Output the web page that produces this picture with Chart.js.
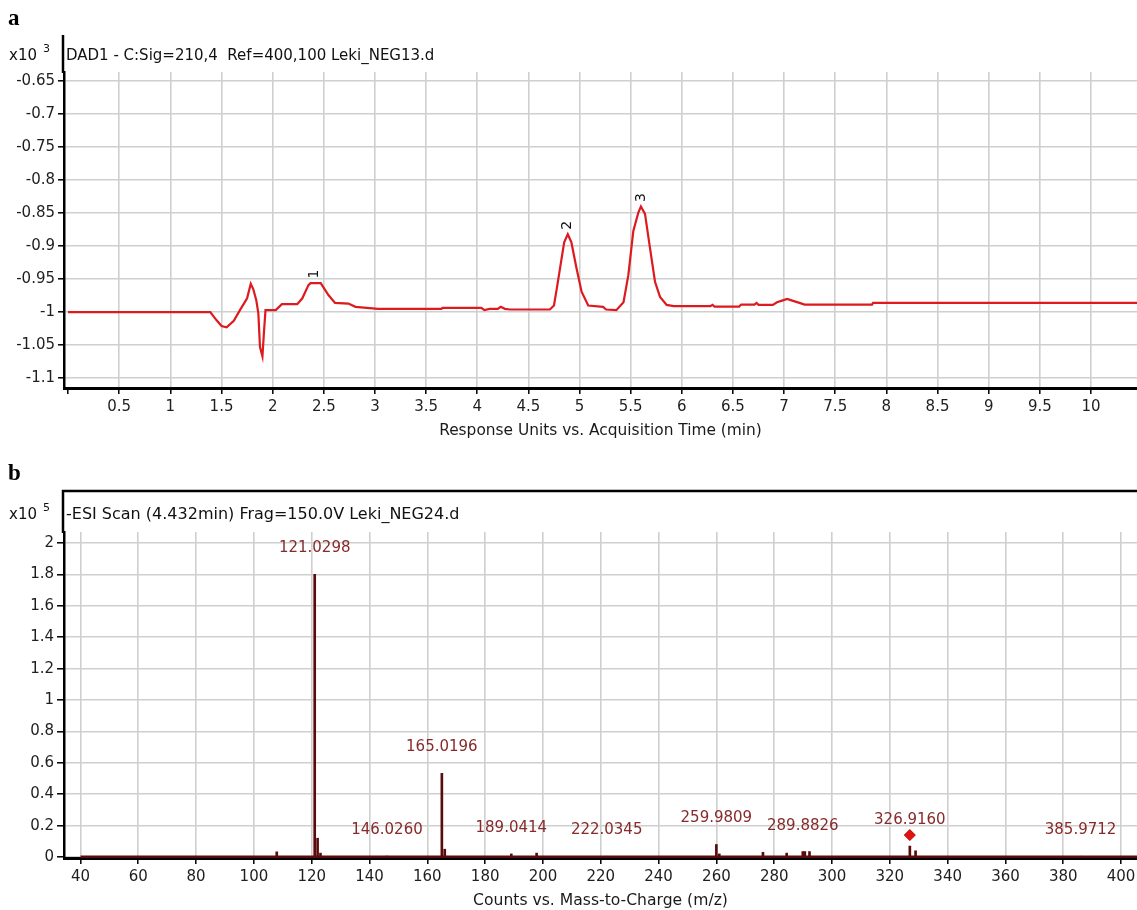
<!DOCTYPE html>
<html>
<head>
<meta charset="utf-8">
<title>DAD chromatogram and ESI spectrum</title>
<script src="https://cdn.jsdelivr.net/npm/chart.js@4/dist/chart.umd.min.js"></script>
<style>
  html, body { margin: 0; padding: 0; background: #ffffff; }
  #wrap { position: relative; width: 1137px; height: 910px; overflow: hidden; }
  canvas { position: absolute; left: 0; }
</style>
</head>
<body>
<div id="wrap">
  <canvas id="chartA" width="1137" height="455" style="top:0px"></canvas>
  <canvas id="chartB" width="1137" height="455" style="top:455px"></canvas>
</div>
<script>
// ---- Panel a: DAD1 trace, response (x10^3) against acquisition time (min) ----
const rtMinutes = [
  0, 1.39, 1.45, 1.50, 1.55, 1.62, 1.68, 1.75, 1.786, 1.81, 1.84, 1.86, 1.876, 1.90, 1.915, 1.93,
  2.03, 2.09, 2.24, 2.29, 2.35, 2.37, 2.47, 2.545, 2.61, 2.74, 2.81, 3.03,
  3.65, 3.66, 4.04, 4.07, 4.12, 4.20, 4.23, 4.27, 4.32, 4.71,
  4.75, 4.78, 4.81, 4.85, 4.885, 4.92, 4.97, 5.02, 5.085, 5.23, 5.26, 5.36,
  5.43, 5.477, 5.526, 5.575, 5.60, 5.64, 5.689, 5.738, 5.787, 5.852, 5.92,
  6.28, 6.30, 6.32, 6.56, 6.58, 6.71, 6.73, 6.75, 6.89, 6.93, 6.98, 7.03, 7.08, 7.15, 7.20,
  7.86, 7.87, 10.45
];
const responseK = [
  -1.000, -1.000, -1.012, -1.021, -1.023, -1.013, -0.997, -0.979, -0.957, -0.965, -0.982, -1.002, -1.053, -1.067, -1.030, -0.997,
  -0.997, -0.988, -0.988, -0.979, -0.959, -0.956, -0.956, -0.974, -0.986, -0.987, -0.992, -0.995,
  -0.995, -0.9935, -0.9935, -0.997, -0.995, -0.995, -0.992, -0.995, -0.996, -0.996,
  -0.990, -0.962, -0.933, -0.894, -0.882, -0.894, -0.933, -0.969, -0.990, -0.992, -0.996, -0.997,
  -0.985, -0.944, -0.877, -0.849, -0.840, -0.851, -0.903, -0.954, -0.977, -0.989, -0.991,
  -0.991, -0.989, -0.9915, -0.9915, -0.9885, -0.9885, -0.986, -0.989, -0.989, -0.985, -0.9825, -0.980, -0.9825, -0.986, -0.9885,
  -0.9885, -0.986, -0.986
];
const rtTicks = [0, 0.5, 1, 1.5, 2, 2.5, 3, 3.5, 4, 4.5, 5, 5.5, 6, 6.5, 7, 7.5, 8, 8.5, 9, 9.5, 10];
const responseTicks = [-0.65, -0.7, -0.75, -0.8, -0.85, -0.9, -0.95, -1, -1.05, -1.1];
const peakNumbers = ['1', '2', '3'];
const peakApexTimes = [2.41, 4.885, 5.60];
const peakApexResponse = [-0.956, -0.882, -0.840];

// ---- Panel b: -ESI scan, counts (x10^5) against m/z ----
const spectrumMz = [
  107.9, 121.0298, 122.03, 123.03, 146.0260, 165.0196, 166.02, 189.0414, 197.8, 222.0345,
  259.9809, 261.0, 276.1, 284.3, 289.8826, 290.6, 292.2, 326.9160, 328.9, 385.9712
];
const spectrumCounts = [
  0.033, 1.80, 0.12, 0.025, 0.006, 0.533, 0.05, 0.02, 0.025, 0.005,
  0.08, 0.02, 0.03, 0.025, 0.035, 0.035, 0.035, 0.07, 0.04, 0.005
];
const annotatedMz = [121.0298, 146.0260, 165.0196, 189.0414, 222.0345, 259.9809, 289.8826, 326.9160, 385.9712];
const precursorMz = [326.9160];
const precursorCounts = [0.14];
const scanRangeMz = [40, 405.5];
const mzTicks = [40, 60, 80, 100, 120, 140, 160, 180, 200, 220, 240, 260, 280, 300, 320, 340, 360, 380, 400];
const countTicks = [0, 0.2, 0.4, 0.6, 0.8, 1, 1.2, 1.4, 1.6, 1.8, 2];

// ---- shared styling ----
const FONT = '"DejaVu Sans", Verdana, sans-serif';
const tickFont = { family: FONT, size: 15 };
const tickColor = '#1e1e1e';
const gridColor = '#cfcfcf';

function fixedTicks(values) {
  return scale => { scale.ticks = values.map(v => ({ value: v })); };
}

// pin the scale box size and drop the label overhang padding
function pinHeight(h) {
  return s => { s.height = h; s.paddingLeft = 0; s.paddingRight = 0; };
}
function pinWidth(w) {
  return s => { s.width = w; s.paddingTop = 0; s.paddingBottom = 0; };
}

function text(ctx, str, x, y, font, color, align) {
  ctx.font = font;
  ctx.fillStyle = color;
  ctx.textAlign = align || 'left';
  ctx.textBaseline = 'alphabetic';
  ctx.fillText(str, x, y);
}

// Header, axis title and peak numbers for the chromatogram
const chromDecor = {
  id: 'chromDecor',
  afterDraw(chart) {
    const { ctx, chartArea, scales } = chart;
    ctx.save();
    // y axis line continues up through the header strip
    ctx.strokeStyle = '#000';
    ctx.lineWidth = 2.5;
    ctx.beginPath();
    ctx.moveTo(chartArea.left - 1, 35);
    ctx.lineTo(chartArea.left - 1, chartArea.top + 1);
    ctx.stroke();

    text(ctx, 'a', 8, 25, 'bold 23px "Liberation Serif", "Times New Roman", serif', '#000');
    text(ctx, 'x10', 9, 60, '15px ' + FONT, '#111');
    text(ctx, '3', 43, 52, '11px ' + FONT, '#111');
    text(ctx, 'DAD1 - C:Sig=210,4  Ref=400,100 Leki_NEG13.d', 66, 60, '15px ' + FONT, '#111');
    text(ctx, 'Response Units vs. Acquisition Time (min)', (chartArea.left + chartArea.right) / 2, 435,
         '15.4px ' + FONT, '#1a1a1a', 'center');

    // peak numbers, rotated, just above each apex
    ctx.font = '14px ' + FONT;
    ctx.fillStyle = '#111';
    ctx.textAlign = 'center';
    ctx.textBaseline = 'middle';
    peakNumbers.forEach((n, i) => {
      const px = scales.x.getPixelForValue(peakApexTimes[i]);
      const py = scales.y.getPixelForValue(peakApexResponse[i]);
      ctx.save();
      ctx.translate(px, py - 9);
      ctx.rotate(-Math.PI / 2);
      ctx.fillText(n, 0, 0);
      ctx.restore();
    });
    ctx.restore();
  }
};

// Header, frame line, axis title and m/z annotations for the spectrum
const spectrumDecor = {
  id: 'spectrumDecor',
  afterDraw(chart) {
    const { ctx, chartArea, scales } = chart;
    ctx.save();
    ctx.strokeStyle = '#000';
    ctx.lineWidth = 2.5;
    ctx.beginPath();
    ctx.moveTo(chartArea.left - 1, chartArea.top + 1);
    ctx.lineTo(chartArea.left - 1, 36);
    ctx.lineTo(chartArea.right, 36);
    ctx.stroke();

    text(ctx, 'b', 8, 25, 'bold 23px "Liberation Serif", "Times New Roman", serif', '#000');
    text(ctx, 'x10', 9, 64, '15px ' + FONT, '#111');
    text(ctx, '5', 43, 56, '11px ' + FONT, '#111');
    text(ctx, '-ESI Scan (4.432min) Frag=150.0V Leki_NEG24.d', 66, 64, '16px ' + FONT, '#111');
    text(ctx, 'Counts vs. Mass-to-Charge (m/z)', (chartArea.left + chartArea.right) / 2, 450,
         '15.6px ' + FONT, '#1a1a1a', 'center');

    // m/z annotations above the labelled peaks
    annotatedMz.forEach(mz => {
      const h = spectrumCounts[spectrumMz.indexOf(mz)];
      const px = scales.x.getPixelForValue(mz);
      const py = scales.y.getPixelForValue(h);
      text(ctx, mz.toFixed(4), px, py - 22, '15px ' + FONT, '#862a2a', 'center');
    });
    ctx.restore();
  }
};

new Chart(document.getElementById('chartA'), {
  type: 'line',
  data: {
    datasets: [{
      data: rtMinutes.map((t, i) => ({ x: t, y: responseK[i] })),
      borderColor: '#dc1a1f',
      borderWidth: 2.2,
      pointRadius: 0,
      tension: 0
    }]
  },
  options: {
    responsive: false,
    animation: false,
    events: [],
    layout: { autoPadding: false, padding: { top: 72, right: 0, left: 0, bottom: 0 } },
    plugins: { legend: { display: false }, tooltip: { enabled: false }, title: { display: false } },
    scales: {
      x: {
        type: 'linear',
        min: -0.04,
        max: 10.45,
        afterBuildTicks: fixedTicks(rtTicks),
        afterFit: pinHeight(67),
        grid: {
          color: c => (c.tick && c.tick.value === 0 ? 'rgba(0,0,0,0)' : gridColor),
          lineWidth: 1.6,
          tickColor: '#000',
          tickLength: 6,
          tickWidth: 1.5
        },
        border: { display: true, color: '#000', width: 3 },
        ticks: {
          font: tickFont, color: tickColor, padding: 4, maxRotation: 0, autoSkip: false,
          callback: v => (v === 0 ? '' : String(v))
        }
      },
      y: {
        type: 'linear',
        min: -1.115,
        max: -0.636,
        afterBuildTicks: fixedTicks(responseTicks),
        afterFit: pinWidth(64),
        grid: { color: gridColor, lineWidth: 1.6, tickColor: '#000', tickLength: 6, tickWidth: 1.5 },
        border: { display: true, color: '#000', width: 2.5 },
        ticks: { font: tickFont, color: tickColor, padding: 3, autoSkip: false, callback: v => String(v) }
      }
    }
  },
  plugins: [chromDecor]
});

new Chart(document.getElementById('chartB'), {
  type: 'bar',
  data: {
    datasets: [
      {
        type: 'bar',
        data: spectrumMz.map((m, i) => ({ x: m, y: spectrumCounts[i] })),
        backgroundColor: '#5a0c0c',
        borderWidth: 0,
        barThickness: 2,
        grouped: false,
        order: 2
      },
      {
        type: 'line',
        data: scanRangeMz.map(m => ({ x: m, y: 0 })),
        borderColor: '#5a0c0c',
        borderWidth: 3,
        pointRadius: 0,
        order: 1
      },
      {
        type: 'line',
        data: precursorMz.map((m, i) => ({ x: m, y: precursorCounts[i] })),
        showLine: false,
        pointStyle: 'rectRot',
        pointRadius: 5.5,
        backgroundColor: '#e01212',
        borderColor: '#c00000',
        borderWidth: 1,
        order: 0
      }
    ]
  },
  options: {
    responsive: false,
    animation: false,
    events: [],
    layout: { autoPadding: false, padding: { top: 77, right: 0, left: 0, bottom: 0 } },
    plugins: { legend: { display: false }, tooltip: { enabled: false }, title: { display: false } },
    scales: {
      x: {
        type: 'linear',
        min: 34.3,
        max: 405.5,
        offset: false,
        afterBuildTicks: fixedTicks(mzTicks),
        afterFit: pinHeight(52),
        grid: { offset: false, color: gridColor, lineWidth: 1.6, tickColor: '#000', tickLength: 6, tickWidth: 1.5 },
        border: { display: true, color: '#000', width: 3 },
        ticks: { font: tickFont, color: tickColor, padding: 4, maxRotation: 0, autoSkip: false, callback: v => String(v) }
      },
      y: {
        type: 'linear',
        min: -0.006,
        max: 2.07,
        afterBuildTicks: fixedTicks(countTicks),
        afterFit: pinWidth(64),
        grid: { color: gridColor, lineWidth: 1.6, tickColor: '#000', tickLength: 7, tickWidth: 1.5 },
        border: { display: true, color: '#000', width: 2.5 },
        ticks: { font: tickFont, color: tickColor, padding: 3, autoSkip: false, callback: v => String(v) }
      }
    }
  },
  plugins: [spectrumDecor]
});
</script>
</body>
</html>
